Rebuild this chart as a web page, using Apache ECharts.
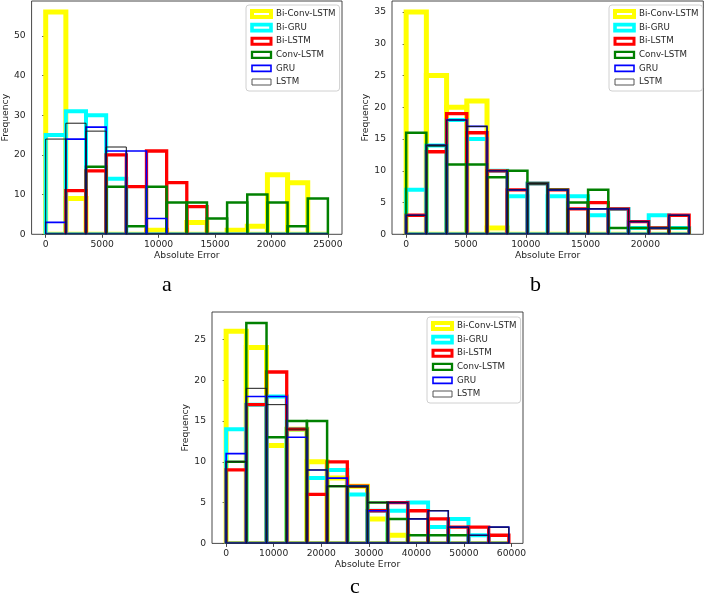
<!DOCTYPE html>
<html>
<head>
<meta charset="utf-8">
<script src="https://cdn.jsdelivr.net/npm/echarts@6/dist/echarts.min.js"></script>
<style>
html,body{margin:0;padding:0;background:#fff;}
#chart{width:706px;height:605px;}
</style>
</head>
<body>
<div id="chart"></div>
<script>
// ---- Data ----
const seriesNames = ['Bi-Conv-LSTM', 'Bi-GRU', 'Bi-LSTM', 'Conv-LSTM', 'GRU', 'LSTM'];
const panelLabels = ['a', 'b', 'c'];
const xAxisTitle = 'Absolute Error';
const yAxisTitle = 'Frequency';

// histogram range [min, max] of absolute error for each panel (14 equal bins)
const rangeA = [0, 25000];
const rangeB = [0, 23660];
const rangeC = [0, 59450];
const binCount = 14;

// panel a counts
const biConvA = [56, 9, 0, 0, 0, 1, 0, 3, 0, 1, 2, 15, 13, 0];
const biGruA  = [25, 31, 30, 14, 0, 0, 0, 0, 0, 0, 0, 0, 0, 0];
const biLstmA = [0, 11, 16, 20, 12, 21, 13, 7, 0, 0, 0, 0, 0, 0];
const convA   = [0, 0, 17, 12, 2, 12, 8, 8, 4, 8, 10, 8, 2, 9];
const gruA    = [3, 24, 27, 21, 21, 4, 0, 0, 0, 0, 0, 0, 0, 0];
const lstmA   = [24, 28, 26, 22, 0, 0, 0, 0, 0, 0, 0, 0, 0, 0];

// panel b counts
const biConvB = [35, 25, 20, 21, 1, 0, 0, 0, 0, 0, 0, 0, 0, 0];
const biGruB  = [7, 14, 18, 15, 10, 6, 8, 6, 6, 3, 4, 1, 3, 1];
const biLstmB = [3, 13, 19, 16, 10, 7, 8, 7, 4, 5, 4, 2, 1, 3];
const convB   = [16, 14, 11, 11, 9, 10, 8, 7, 5, 7, 1, 1, 1, 1];
const gruB    = [3, 14, 18, 17, 10, 7, 8, 7, 4, 4, 4, 2, 1, 3];
const lstmB   = [3, 14, 18, 17, 10, 7, 8, 7, 4, 4, 4, 2, 1, 3];

// panel c counts
const biConvC = [26, 24, 12, 14, 10, 8, 7, 3, 1, 0, 0, 0, 0, 0];
const biGruC  = [14, 17, 18, 14, 8, 9, 6, 4, 4, 5, 2, 3, 1, 0];
const biLstmC = [9, 17, 21, 14, 6, 10, 7, 4, 5, 4, 3, 2, 2, 1];
const convC   = [10, 27, 13, 15, 15, 7, 7, 5, 3, 1, 1, 1, 0, 0];
const gruC    = [11, 18, 18, 13, 9, 8, 7, 4, 5, 3, 4, 2, 1, 2];
const lstmC   = [10, 19, 17, 14, 9, 7, 7, 5, 5, 3, 4, 2, 1, 2];

// tick labels
const xTicksA = [0, 5000, 10000, 15000, 20000, 25000];
const xTicksB = [0, 5000, 10000, 15000, 20000];
const xTicksC = [0, 10000, 20000, 30000, 40000, 50000, 60000];
const yTicksA = [0, 10, 20, 30, 40, 50];
const yTicksB = [0, 5, 10, 15, 20, 25, 30, 35];
const yTicksC = [0, 5, 10, 15, 20, 25];

// ---- Styles ----
const colors = ['#ffff00', '#00ffff', '#ff0000', '#008000', '#0000ff', '#1a1a1a'];
const legendColors = ['#ffff00', '#00ffff', '#ff0000', '#008000', '#0000ff', '#555555'];
const lineWidths = [5, 4, 3.3, 2.5, 1.6, 1];
const legendWidths = [4, 3.6, 3, 2.3, 1.6, 1];
const FONT = 'DejaVu Sans';
const TXT = '#262626';

function edgesOf(range) {
  const w = (range[1] - range[0]) / binCount;
  const e = [];
  for (let i = 0; i <= binCount; i++) e.push(range[0] + i * w);
  return e;
}

const panels = [
  {range: rangeA, counts: [biConvA, biGruA, biLstmA, convA, gruA, lstmA], xTicks: xTicksA, yTicks: yTicksA,
   grid: {left: 29, top: 1, width: 313, height: 233.3}, xMin: -1250, xMax: 26250, yMax: 58.8,
   legend: {left: 246, top: 5}},
  {range: rangeB, counts: [biConvB, biGruB, biLstmB, convB, gruB, lstmB], xTicks: xTicksB, yTicks: yTicksB,
   grid: {left: 392, top: 1, width: 311.3, height: 233.3}, xMin: -1183, xMax: 24843, yMax: 36.75,
   legend: {left: 609, top: 5}},
  {range: rangeC, counts: [biConvC, biGruC, biLstmC, convC, gruC, lstmC], xTicks: xTicksC, yTicks: yTicksC,
   grid: {left: 212, top: 312, width: 311, height: 231.4}, xMin: -2972, xMax: 62422, yMax: 28.35,
   legend: {left: 427, top: 317}}
];

const grids = [], xAxes = [], yAxes = [], series = [], legends = [];
panels.forEach((p, gi) => {
  grids.push(Object.assign({show: true, borderColor: '#333', borderWidth: 0.9, backgroundColor: 'transparent'}, p.grid));
  xAxes.push({
    type: 'value', gridIndex: gi, min: p.xMin, max: p.xMax,
    name: xAxisTitle, nameLocation: 'middle', nameGap: 17,
    nameTextStyle: {fontFamily: FONT, fontSize: 9.2, color: TXT},
    splitLine: {show: false}, axisLine: {show: false},
    axisTick: {show: true, length: 3.5, lineStyle: {color: '#333', width: 0.9}, customValues: p.xTicks},
    axisLabel: {fontFamily: FONT, fontSize: 9.2, color: TXT, margin: 6, customValues: p.xTicks,
                formatter: v => String(v)}
  });
  yAxes.push({
    type: 'value', gridIndex: gi, min: 0, max: p.yMax,
    name: yAxisTitle, nameLocation: 'middle', nameGap: 20,
    nameTextStyle: {fontFamily: FONT, fontSize: 9.2, color: TXT},
    splitLine: {show: false}, axisLine: {show: false},
    axisTick: {show: true, length: 3.5, lineStyle: {color: '#333', width: 0.9}, customValues: p.yTicks},
    axisLabel: {fontFamily: FONT, fontSize: 9.2, color: TXT, margin: 6, customValues: p.yTicks,
                formatter: v => String(v)}
  });
  const edges = edgesOf(p.range);
  p.counts.forEach((arr, si) => {
    const col = colors[si], lw = lineWidths[si];
    series.push({
      type: 'custom', name: seriesNames[si], xAxisIndex: gi, yAxisIndex: gi, clip: true,
      itemStyle: {color: col},
      encode: {x: [0, 1], y: 2},
      data: arr.map((c, i) => [edges[i], edges[i + 1], c]),
      renderItem: (params, api) => {
        const a = api.coord([api.value(0), 0]);
        const b = api.coord([api.value(1), api.value(2)]);
        return {
          type: 'polygon', silent: true,
          shape: {points: [[a[0], a[1]], [a[0], b[1]], [b[0], b[1]], [b[0], a[1]]]},
          style: {fill: 'none', stroke: col, lineWidth: lw, lineJoin: 'miter'}
        };
      }
    });
  });
  legends.push({
    orient: 'vertical', left: p.legend.left, top: p.legend.top,
    backgroundColor: '#fff', borderColor: '#d0d0d0', borderWidth: 1, borderRadius: 3,
    padding: [4, 4, 4, 4], itemGap: 3.6, itemWidth: 19, itemHeight: 6,
    selectedMode: false,
    textStyle: {fontFamily: FONT, fontSize: 8.7, color: TXT, lineHeight: 10},
    data: seriesNames.map((n, si) => ({
      name: n, icon: 'rect',
      itemStyle: {color: '#fff', borderColor: legendColors[si], borderWidth: legendWidths[si]}
    }))
  });
});

const chart = echarts.init(document.getElementById('chart'), null, {renderer: 'canvas'});
chart.setOption({
  backgroundColor: '#fff',
  animation: false,
  grid: grids, xAxis: xAxes, yAxis: yAxes, series: series, legend: legends,
  graphic: [
    {type: 'text', left: 162, top: 274, style: {text: panelLabels[0], font: '22px "Liberation Serif"', fill: '#000'}},
    {type: 'text', left: 530, top: 274, style: {text: panelLabels[1], font: '22px "Liberation Serif"', fill: '#000'}},
    {type: 'text', left: 350, top: 576, style: {text: panelLabels[2], font: '22px "Liberation Serif"', fill: '#000'}}
  ]
});
</script>
</body>
</html>
